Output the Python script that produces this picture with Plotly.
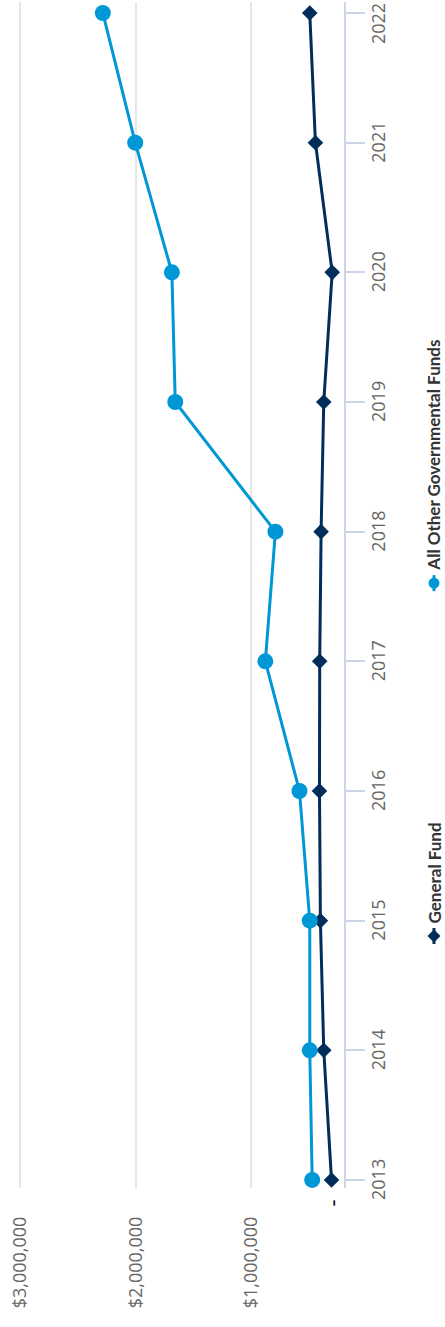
import plotly.graph_objects as go

years = [2013, 2014, 2015, 2016, 2017, 2018, 2019, 2020, 2021, 2022]
general_fund = [307000, 374000, 403000, 411000, 409000, 397000, 374000, 301000, 446000, 495000]
other_gov_funds = [474000, 495000, 495000, 584000, 879000, 792000, 1658000, 1687000, 2004000, 2284000]

value_ticks = [1000000, 2000000, 3000000]
value_tick_text = ["$1,000,000", "$2,000,000", "$3,000,000"]

NAVY = "#002d5a"
BLUE = "#0097d7"
TICK_FONT = dict(family="Open Sans", size=18, color="#666666")

fig = go.Figure()

fig.add_trace(go.Scatter(
    x=general_fund, y=years, mode="lines+markers", name="General Fund",
    line=dict(color=NAVY, width=3),
    marker=dict(symbol="diamond", size=12, color=NAVY),
    showlegend=False,
))
fig.add_trace(go.Scatter(
    x=other_gov_funds, y=years, mode="lines+markers", name="All Other Governmental Funds",
    line=dict(color=BLUE, width=3),
    marker=dict(symbol="circle", size=16, color=BLUE),
    showlegend=False,
))

fig.update_layout(
    width=445, height=1327,
    margin=dict(l=0, r=101, t=2, b=139),
    paper_bgcolor="white", plot_bgcolor="white",
    xaxis=dict(
        range=[3173000, 199000],
        tickvals=value_ticks, ticktext=value_tick_text,
        tickangle=-90, tickfont=TICK_FONT,
        showgrid=True, gridcolor="#e6e6e6", gridwidth=2,
        zeroline=False, showline=False, ticks="",
        ticklabelstandoff=24,
    ),
    yaxis=dict(
        range=[2012.938, 2022.085],
        side="right", tickvals=years, showticklabels=False,
        showline=True, linecolor="#ccd6eb", linewidth=2,
        ticks="outside", ticklen=19, tickcolor="#ccd6eb", tickwidth=2,
        showgrid=False, zeroline=False,
    ),
)

# year labels along the category axis
for i, yr in enumerate(years):
    fig.add_annotation(
        x=1, xref="paper", y=yr, yref="y", xshift=34,
        text=str(yr), textangle=-90, showarrow=False,
        font=TICK_FONT, xanchor="center", yanchor="middle",
        yshift=-11 if i == len(years) - 1 else 0,
    )

# zero label below the value axis
fig.add_annotation(
    x=0.968, xref="paper", y=0, yref="paper", xshift=15, yshift=-20,
    text="-", textangle=-90, showarrow=False,
    font=dict(family="Open Sans", size=22, color="#000000"),
)

# legend drawn vertically on the right edge
LEGEND_FONT = dict(family="Liberation Sans Narrow, Lato, sans-serif", size=17,
                   color="#333333", weight="bold")
LEGEND_X = 1.2616
legend_items = [
    ("General Fund", NAVY, "diamond", 0.2125),
    ("All Other Governmental Funds", BLUE, "circle", 0.510),
]
for label, color, symbol, ypos in legend_items:
    fig.add_shape(type="line", xref="paper", yref="paper",
                  xsizemode="pixel", ysizemode="pixel",
                  xanchor=LEGEND_X, yanchor=ypos,
                  x0=0, x1=0, y0=-8, y1=8,
                  line=dict(color=color, width=3))
    if symbol == "circle":
        fig.add_shape(type="circle", xref="paper", yref="paper",
                      xsizemode="pixel", ysizemode="pixel",
                      xanchor=LEGEND_X, yanchor=ypos,
                      x0=-5.5, x1=5.5, y0=-5.5, y1=5.5,
                      fillcolor=color, line=dict(width=0))
    else:
        fig.add_shape(type="path", xref="paper", yref="paper",
                      xsizemode="pixel", ysizemode="pixel",
                      xanchor=LEGEND_X, yanchor=ypos,
                      path="M 0 -6.5 L 6.5 0 L 0 6.5 L -6.5 0 Z",
                      fillcolor=color, line=dict(width=0))
    fig.add_annotation(
        x=LEGEND_X, xref="paper", y=ypos, yref="paper", yshift=11,
        text=label, textangle=-90, showarrow=False,
        font=LEGEND_FONT, xanchor="center", yanchor="bottom",
    )

fig.write_html("out.html")
